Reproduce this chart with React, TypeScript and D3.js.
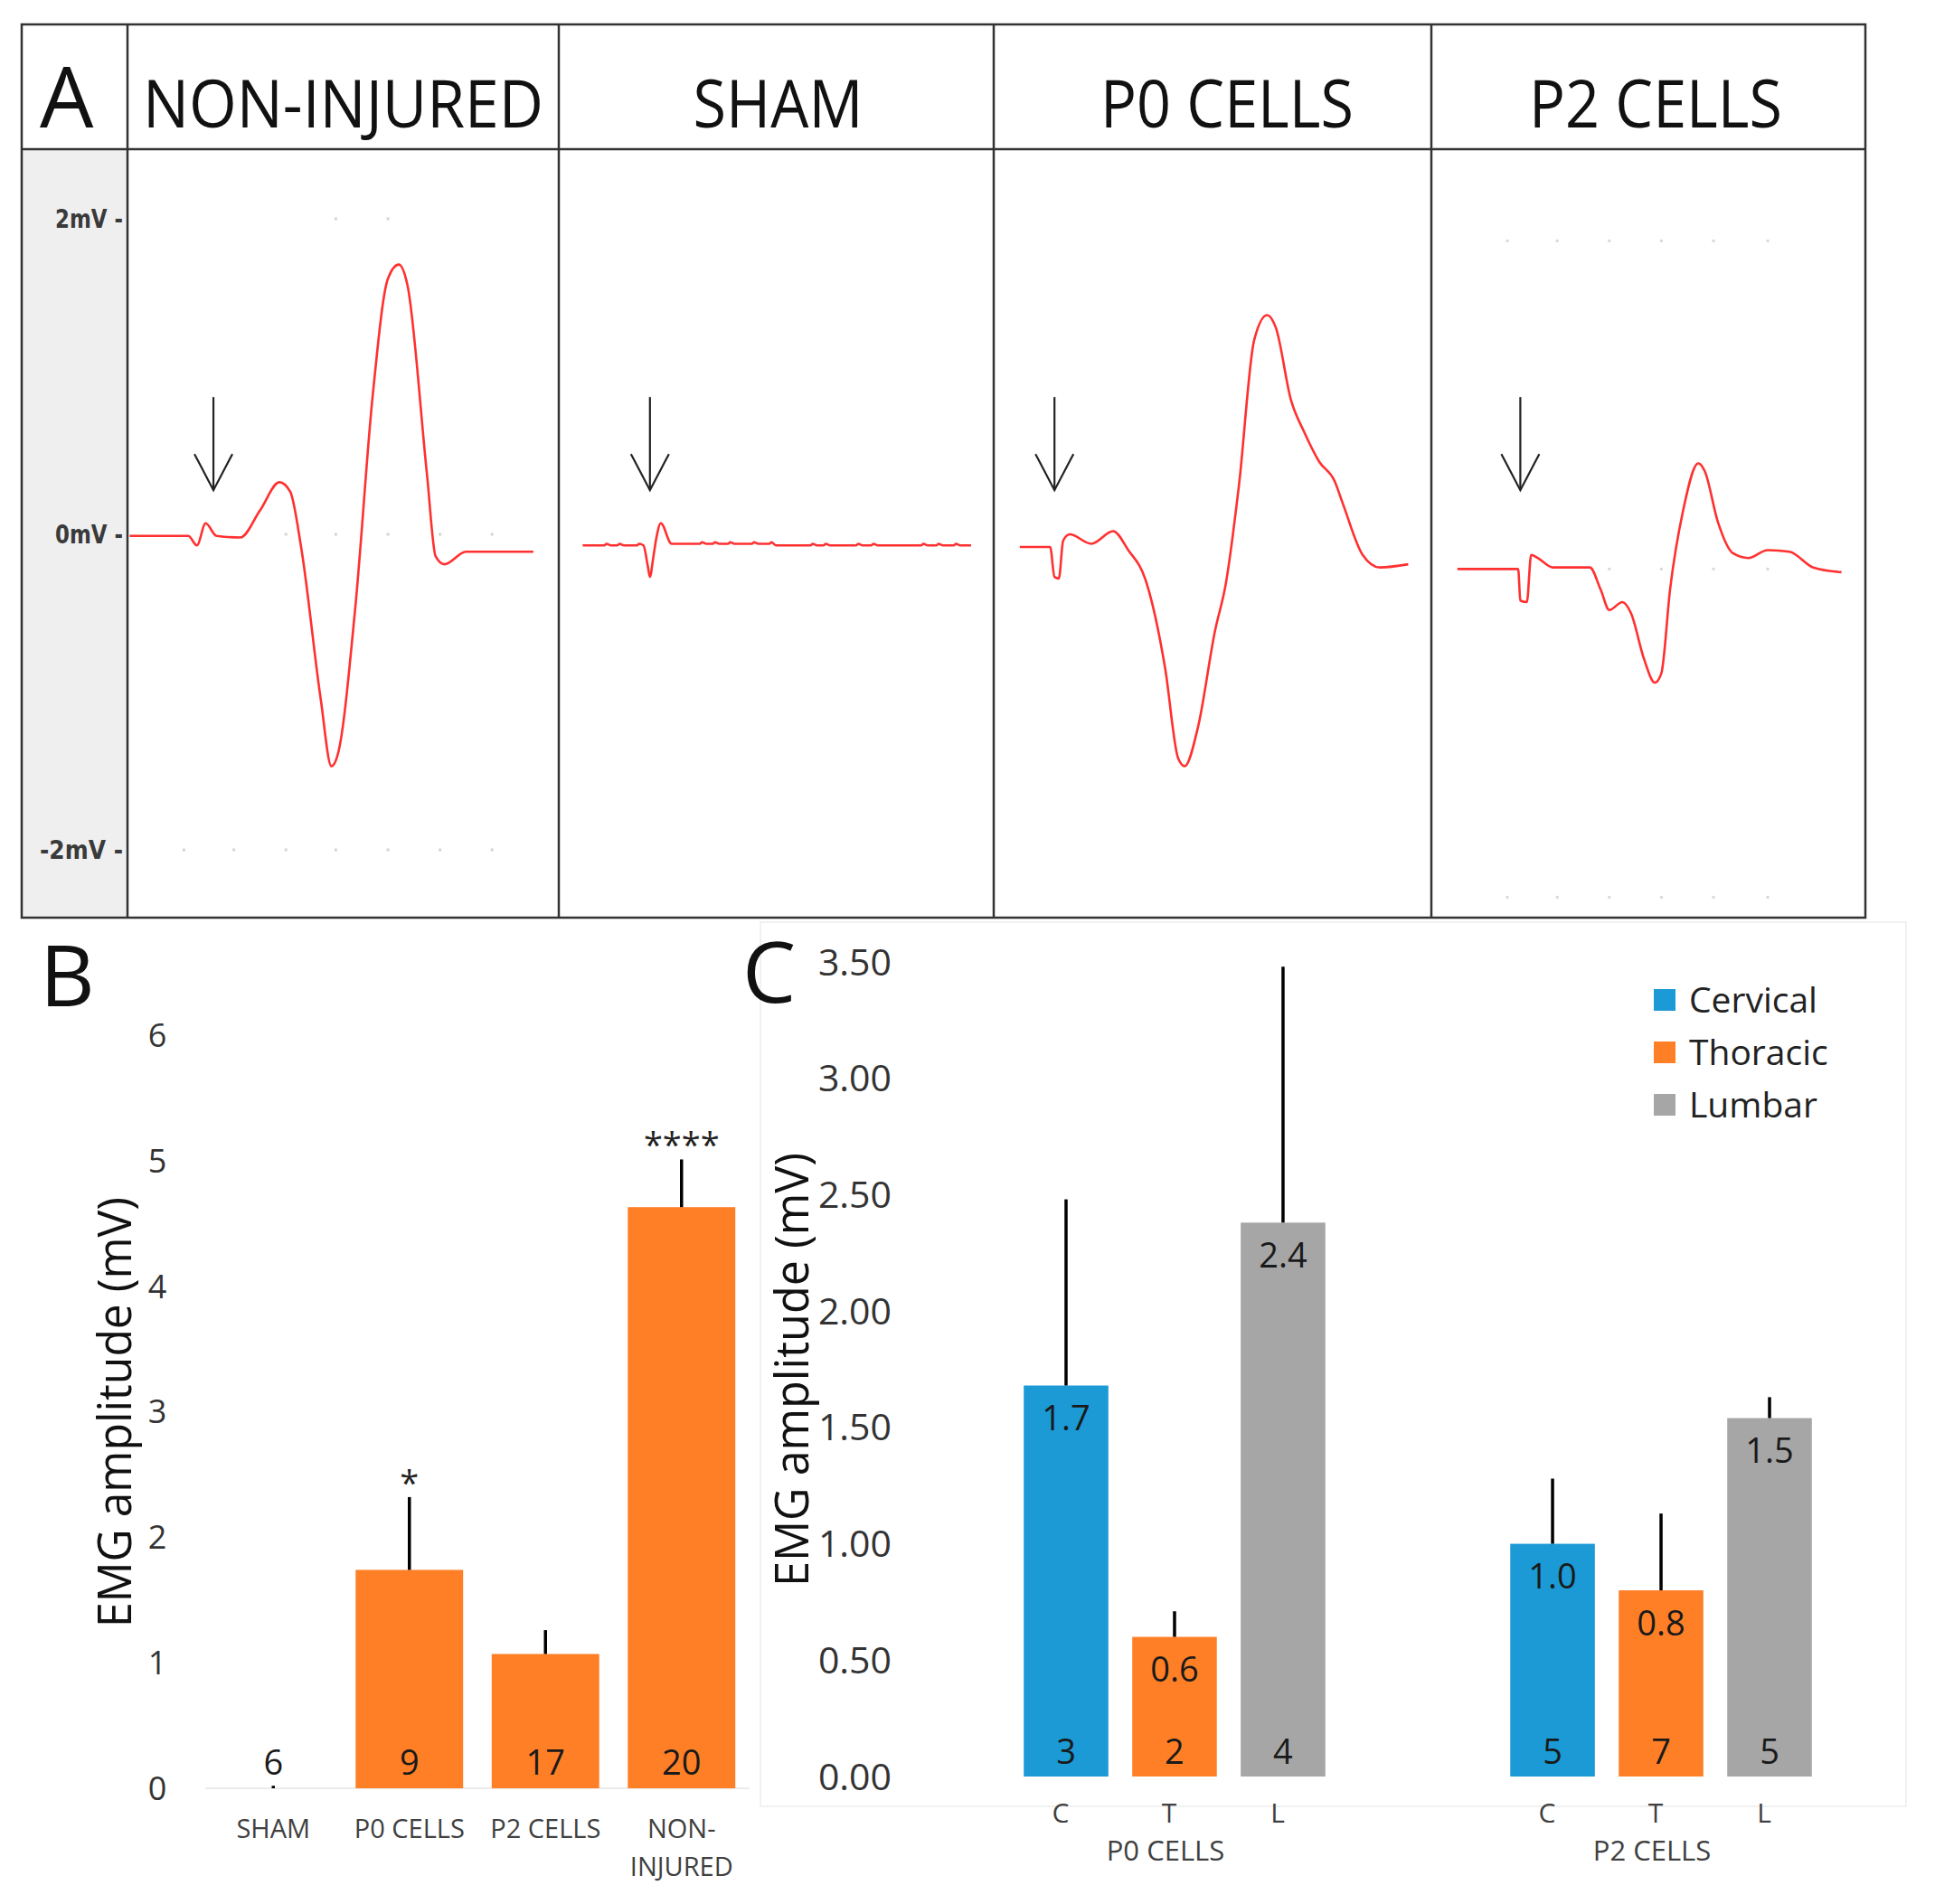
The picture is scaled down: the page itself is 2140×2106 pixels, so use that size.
import * as d3 from "d3";

type Pt = [number, number];

// ---- panel A : EMG traces (time in ms, amplitude in mV)
const panelTitles = ["NON-INJURED", "SHAM", "P0 CELLS", "P2 CELLS"];

const traceNonInjured: Pt[] = [
  [0.1, -0.01], [2.8, -0.01], [3.2, -0.07], [3.6, 0.07], [4.1, -0.01], [5.2, -0.02],
  [6.1, 0.15], [7.0, 0.33], [7.5, 0.27], [8.0, -0.08], [8.9, -1.04], [9.4, -1.47],
  [9.7, -1.39], [10.5, -0.46], [11.3, 0.88], [12.0, 1.62], [12.5, 1.71], [12.9, 1.58],
  [13.8, 0.38], [14.2, -0.14], [14.6, -0.19], [15.6, -0.11], [16.3, -0.11], [18.7, -0.11],
];

const traceSham: Pt[] = [
  [1.1, -0.07], [2.1, -0.07], [2.2, -0.06], [2.4, -0.07], [2.7, -0.07], [2.8, -0.06],
  [3.0, -0.07], [3.6, -0.07], [3.7, -0.06], [3.9, -0.07], [4.1, -0.2], [4.2, -0.27],
  [4.35, -0.15], [4.5, -0.02], [4.7, 0.07], [5.2, -0.06], [6.5, -0.06], [6.6, -0.05],
  [6.8, -0.06], [7.1, -0.06], [7.2, -0.05], [7.4, -0.06], [7.8, -0.06], [7.9, -0.05],
  [8.1, -0.06], [8.9, -0.06], [9.0, -0.05], [9.2, -0.06], [9.7, -0.06], [9.8, -0.05],
  [10.0, -0.07], [11.6, -0.07], [11.7, -0.06], [11.9, -0.07], [12.2, -0.07], [12.3, -0.06],
  [12.5, -0.07], [13.7, -0.07], [13.8, -0.06], [14.0, -0.07], [14.4, -0.07], [14.5, -0.06],
  [14.7, -0.07], [16.7, -0.07], [16.8, -0.06], [17.0, -0.07], [17.4, -0.07], [17.5, -0.06],
  [17.7, -0.07], [18.2, -0.07], [18.3, -0.06], [18.5, -0.07], [19.0, -0.07],
];

const traceP0: Pt[] = [
  [1.2, -0.08], [2.6, -0.08], [2.8, -0.27], [3.0, -0.28], [3.2, -0.04], [3.5, 0.0],
  [4.5, -0.06], [5.5, 0.02], [6.2, -0.1], [7.0, -0.29], [7.9, -0.85], [8.5, -1.42],
  [8.8, -1.47], [9.4, -1.23], [10.2, -0.61], [10.7, -0.31], [11.3, 0.31], [12.0, 1.23],
  [12.6, 1.39], [13.0, 1.31], [13.7, 0.85], [14.3, 0.65], [15.0, 0.46], [15.7, 0.34],
  [16.1, 0.19], [17.0, -0.13], [17.8, -0.21], [19.1, -0.19],
];

const traceP2: Pt[] = [
  [1.2, -0.22], [4.0, -0.22], [4.1, -0.42], [4.4, -0.43], [4.6, -0.13], [4.9, -0.15],
  [5.6, -0.21], [7.3, -0.21], [7.8, -0.35], [8.2, -0.48], [8.8, -0.43], [9.2, -0.5],
  [9.8, -0.79], [10.3, -0.94], [10.6, -0.88], [11.0, -0.35], [11.6, 0.15], [12.3, 0.45],
  [12.6, 0.4], [13.2, 0.08], [13.9, -0.12], [14.6, -0.15], [15.5, -0.1], [16.5, -0.11],
  [17.6, -0.21], [18.9, -0.24],
];

const traces = [traceNonInjured, traceSham, traceP0, traceP2];
const stimTimes = [3.96, 4.2, 2.8, 4.1];
const mvTicks = [2, 0, -2];
const mvTickLabels = ["2mV -", "0mV -", "-2mV -"];

// ---- panel B : EMG amplitude by group
const bCategories = ["SHAM", "P0 CELLS", "P2 CELLS", "NON-INJURED"];
const bLabelLines = [["SHAM"], ["P0 CELLS"], ["P2 CELLS"], ["NON-", "INJURED"]];
const bValues = [0, 1.74, 1.07, 4.63];
const bSem = [0.02, 0.58, 0.19, 0.38];
const bN = [6, 9, 17, 20];
const bSig = ["", "*", "", "****"];
const bTicks = [0, 1, 2, 3, 4, 5, 6];

// ---- panel C : EMG amplitude by region
const cGroups = ["P0 CELLS", "P2 CELLS"];
const cRegions = ["C", "T", "L"];
const cRegionNames = ["Cervical", "Thoracic", "Lumbar"];
const cValues = [
  [1.68, 0.6, 2.38],
  [1.0, 0.8, 1.54],
];
const cSem = [
  [0.8, 0.11, 1.1],
  [0.28, 0.33, 0.09],
];
const cN = [
  [3, 2, 4],
  [5, 7, 5],
];
const cTicks = [0, 0.5, 1, 1.5, 2, 2.5, 3, 3.5];

const ORANGE = "#ff7f27";
const regionColor = ["#1b9ad6", ORANGE, "#a6a6a6"];
const FONT = "'Open Sans', sans-serif";

// text baseline for a given visual centre of digits / caps
const mid = (cy: number, fs: number) => cy + 0.357 * fs;

export default function App() {
  // panel A geometry
  const frame = { left: 24, top: 27, right: 2063, bottom: 1015, header: 165, labelCol: 141 };
  const edges = [141, 618, 1099, 1583, 2063];
  const titleWidths = [443, 188, 280, 280];
  const titleShift = [0, 2, 16, 8];
  const yA = d3.scaleLinear().domain([-2, 2]).range([940, 242]);
  const xPanel = (i: number) => d3.scaleLinear().domain([0, 20]).range([edges[i], edges[i] + 480]);

  // faint oscilloscope grid dots (panels 1 and 4)
  const dots1: Pt[] = [
    ...[9.6, 12.0].map((t) => [t, 2] as Pt),
    ...[7.3, 9.6, 12.0, 14.4, 16.8].map((t) => [t, 0] as Pt),
    ...[2.6, 4.9, 7.3, 9.6, 12.0, 14.4, 16.8].map((t) => [t, -2] as Pt),
  ];
  const dots4: Pt[] = [
    ...[3.5, 5.8, 8.2, 10.6, 13.0, 15.5].map((t) => [t, 1.86] as Pt),
    ...[8.2, 10.6, 13.0, 15.5].map((t) => [t, -0.22] as Pt),
    ...[3.5, 5.8, 8.2, 10.6, 13.0, 15.5].map((t) => [t, -2.3] as Pt),
  ];

  // panel B scales
  const xB = d3.scaleBand().domain(bCategories).range([227, 829]).paddingInner(0.21).paddingOuter(0.105);
  const yB = d3.scaleLinear().domain([0, 6]).range([1978, 1145]);

  // panel C scales
  const x0C = d3.scaleBand().domain(cGroups).range([1119, 2017]).paddingInner(0.331);
  const x1C = d3.scaleBand().domain(cRegions).range([0, x0C.bandwidth()]).paddingInner(0.22).paddingOuter(0.11);
  const yC = d3.scaleLinear().domain([0, 3.5]).range([1965, 1064]);
  const fmtC = d3.format(".2f");

  return (
    <svg
      width={2140}
      height={2106}
      style={{ position: "absolute", left: 0, top: 0, background: "#fff" }}
      fontFamily={FONT}
    >
      {/* ===== Panel A ===== */}
      <rect x={frame.left} y={frame.header} width={frame.labelCol - frame.left} height={frame.bottom - frame.header} fill="#efefef" />
      <g stroke="#333" strokeWidth={2.5} fill="none">
        <rect x={frame.left} y={frame.top} width={frame.right - frame.left} height={frame.bottom - frame.top} />
        <line x1={frame.left} x2={frame.right} y1={frame.header} y2={frame.header} />
        {edges.slice(0, 4).map((x, i) => (
          <line key={i} x1={x} x2={x} y1={frame.top} y2={frame.bottom} />
        ))}
      </g>
      <text x={44} y={141} fontSize={94} fill="#111">A</text>
      {panelTitles.map((t, i) => (
        <text
          key={t}
          x={(edges[i] + edges[i + 1]) / 2 + titleShift[i]}
          y={141}
          fontSize={74}
          textAnchor="middle"
          textLength={titleWidths[i]}
          lengthAdjust="spacingAndGlyphs"
          fill="#111"
        >
          {t}
        </text>
      ))}
      {mvTicks.map((v, i) => (
        <text
          key={v}
          x={136}
          y={mid(yA(v), 28)}
          fontSize={28}
          fontFamily="'DejaVu Sans', sans-serif"
          fontWeight="bold"
          textAnchor="end"
          textLength={i === 2 ? 92 : 75}
          lengthAdjust="spacingAndGlyphs"
          fill="#3a3a3a"
        >
          {mvTickLabels[i]}
        </text>
      ))}
      {dots1.map((d, i) => {
        const xs = xPanel(0);
        return <rect key={"d1" + i} x={xs(d[0]) - 1.5} y={yA(d[1]) - 1.5} width={3} height={3} fill="#d4d4d4" />;
      })}
      {dots4.map((d, i) => {
        const xs = xPanel(3);
        return <rect key={"d4" + i} x={xs(d[0]) - 1.5} y={yA(d[1]) - 1.5} width={3} height={3} fill="#d9d9d9" />;
      })}
      {traces.map((tr, i) => {
        const xs = xPanel(i);
        const line = d3
          .line<Pt>()
          .x((d) => xs(d[0]))
          .y((d) => yA(d[1]))
          .curve(d3.curveMonotoneX);
        return <path key={"tr" + i} d={line(tr) || ""} fill="none" stroke="#ff3030" strokeWidth={2.6} strokeLinejoin="round" />;
      })}
      {stimTimes.map((t, i) => {
        const ax = xPanel(i)(t);
        const top = yA(0.87);
        const tip = yA(0.28);
        return (
          <g key={"ar" + i} stroke="#222" strokeWidth={2.2} fill="none">
            <line x1={ax} x2={ax} y1={top} y2={tip} />
            <polyline points={`${ax - 21},${tip - 40} ${ax},${tip} ${ax + 21},${tip - 40}`} />
          </g>
        );
      })}

      {/* ===== Panel B ===== */}
      <text x={44} y={1113} fontSize={94} fill="#111">B</text>
      <line x1={227} x2={829} y1={yB(0)} y2={yB(0)} stroke="#ececec" strokeWidth={2} />
      {bTicks.map((t) => (
        <text key={t} x={174} y={mid(yB(t), 36)} fontSize={36} textAnchor="middle" fill="#333">
          {t}
        </text>
      ))}
      <text
        transform="translate(145,1562) rotate(-90)"
        fontSize={51}
        textAnchor="middle"
        textLength={476}
        lengthAdjust="spacingAndGlyphs"
        fill="#111"
      >
        EMG amplitude (mV)
      </text>
      {bCategories.map((c, i) => {
        const x = xB(c)!;
        const cx = x + xB.bandwidth() / 2;
        const top = yB(bValues[i]);
        const errTop = yB(bValues[i] + bSem[i]);
        return (
          <g key={c}>
            <rect x={x} y={top} width={xB.bandwidth()} height={yB(0) - top} fill={ORANGE} />
            <line x1={cx} x2={cx} y1={top} y2={errTop} stroke="#000" strokeWidth={3.5} />
            {bSig[i] && (
              <text x={cx} y={errTop - 2} fontSize={38} textAnchor="middle" fill="#222">
                {bSig[i]}
              </text>
            )}
            <text x={cx} y={mid(yB(0) - 29, 38)} fontSize={38} textAnchor="middle" fill="#1a1a1a">
              {bN[i]}
            </text>
            {bLabelLines[i].map((ln, j) => (
              <text key={j} x={cx} y={mid(2023 + j * 42, 29)} fontSize={29} textAnchor="middle" fill="#404040">
                {ln}
              </text>
            ))}
          </g>
        );
      })}

      {/* ===== Panel C ===== */}
      <rect x={841} y={1020} width={1267} height={978} fill="none" stroke="#f1f1f1" strokeWidth={2} />
      <text x={821} y={1109} fontSize={94} fill="#111">C</text>
      {cTicks.map((t) => (
        <text key={t} x={986} y={mid(yC(t), 41)} fontSize={41} textAnchor="end" fill="#333">
          {fmtC(t)}
        </text>
      ))}
      <text
        transform="translate(894,1515) rotate(-90)"
        fontSize={51}
        textAnchor="middle"
        textLength={480}
        lengthAdjust="spacingAndGlyphs"
        fill="#111"
      >
        EMG amplitude (mV)
      </text>
      {cGroups.map((g, gi) => {
        const gx = x0C(g)!;
        return (
          <g key={g}>
            {cRegions.map((r, ri) => {
              const x = gx + x1C(r)!;
              const cx = x + x1C.bandwidth() / 2;
              const v = cValues[gi][ri];
              const top = yC(v);
              const errTop = yC(v + cSem[gi][ri]);
              return (
                <g key={r}>
                  <rect x={x} y={top} width={x1C.bandwidth()} height={yC(0) - top} fill={regionColor[ri]} />
                  <line x1={cx} x2={cx} y1={top} y2={errTop} stroke="#000" strokeWidth={3.5} />
                  <text x={cx} y={mid(top + 36, 38)} fontSize={38} textAnchor="middle" fill="#1a1a1a">
                    {v.toFixed(1)}
                  </text>
                  <text x={cx} y={mid(yC(0) - 28, 38)} fontSize={38} textAnchor="middle" fill="#1a1a1a">
                    {cN[gi][ri]}
                  </text>
                  <text x={cx - 6} y={mid(2005, 30)} fontSize={30} textAnchor="middle" fill="#404040">
                    {r}
                  </text>
                </g>
              );
            })}
            <text x={gx + x0C.bandwidth() / 2 - 10} y={mid(2047, 31)} fontSize={31} textAnchor="middle" fill="#404040">
              {g}
            </text>
          </g>
        );
      })}
      {cRegionNames.map((n, i) => {
        const cy = 1106 + i * 58;
        return (
          <g key={n}>
            <rect x={1829} y={cy - 12} width={24} height={24} fill={regionColor[i]} />
            <text x={1868} y={mid(cy, 39)} fontSize={39} fill="#222">
              {n}
            </text>
          </g>
        );
      })}
    </svg>
  );
}
